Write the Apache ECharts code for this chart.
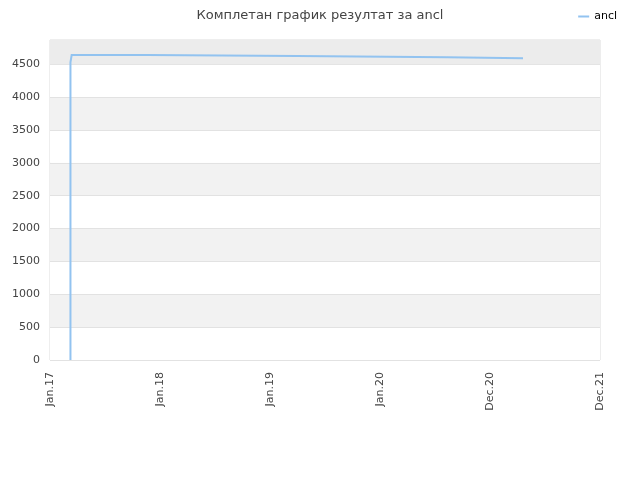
<!DOCTYPE html>
<html>
<head>
<meta charset="utf-8">
<script src="https://cdn.jsdelivr.net/npm/echarts@6/dist/echarts.min.js"></script>
<style>html,body{margin:0;padding:0;background:#fff}#c{width:640px;height:480px}</style>
</head>
<body>
<div id="c"></div>
<script>
var tickLabels = ['Jan.17', 'Jan.18', 'Jan.19', 'Jan.20', 'Dec.20', 'Dec.21'];
var seriesName = 'ancl';
var xPositions = [0.186, 0.186, 0.197, 0.882, 2.245, 3.609, 4.30];
var scores = [0, 4530, 4640, 4625, 4609, 4592, 4592];
var yMax = 4870;

// step-after path built from the data arrays
var data = [];
xPositions.forEach(function (x, i) {
  if (i > 0) data.push([x, scores[i - 1]]);
  data.push([x, scores[i]]);
});

var chart = echarts.init(document.getElementById('c'), null, {renderer: 'canvas'});
chart.setOption({
  animation: false,
  backgroundColor: '#ffffff',
  textStyle: {fontFamily: 'DejaVu Sans'},
  title: {
    text: 'Комплетан график резултат за ancl',
    left: 'center', top: 4,
    textStyle: {fontSize: 13, fontWeight: 'normal', color: '#444', fontFamily: 'DejaVu Sans'}
  },
  legend: {
    right: 18, top: 6,
    itemWidth: 11, itemHeight: 2, itemGap: 5,
    icon: 'rect',
    textStyle: {fontSize: 11, color: '#000', fontFamily: 'DejaVu Sans'},
    data: [seriesName]
  },
  grid: {left: 50, right: 40, top: 40, bottom: 120, containLabel: false,
         show: true, borderColor: '#dcdcdc', borderWidth: 1},
  xAxis: {
    type: 'value', min: 0, max: tickLabels.length - 1, interval: 1,
    axisLine: {show: false}, axisTick: {show: false}, splitLine: {show: false},
    axisLabel: {
      rotate: 90, fontSize: 11, color: '#444', margin: 12,
      formatter: function (v) { return tickLabels[Math.round(v)] || ''; }
    }
  },
  yAxis: {
    type: 'value', min: 0, max: yMax, interval: 500,
    axisLine: {show: false}, axisTick: {show: false},
    axisLabel: {fontSize: 11, color: '#444', margin: 10,
      formatter: function (v) { return v % 500 === 0 ? v : ''; }},
    splitLine: {lineStyle: {color: '#e2e2e2', width: 1}},
    splitArea: {show: true, areaStyle: {color: ['#ffffff', '#f2f2f2']}}
  },
  series: [{
    name: seriesName,
    type: 'line',
    data: data,
    showSymbol: false,
    symbol: 'none',
    lineStyle: {color: '#92c3f0', width: 2, join: 'miter'},
    itemStyle: {color: '#92c3f0'},
    markArea: {
      silent: true,
      itemStyle: {color: '#ececec'},
      data: [[{yAxis: 4500}, {yAxis: yMax}]]
    },
    z: 3
  }]
});
</script>
</body>
</html>
